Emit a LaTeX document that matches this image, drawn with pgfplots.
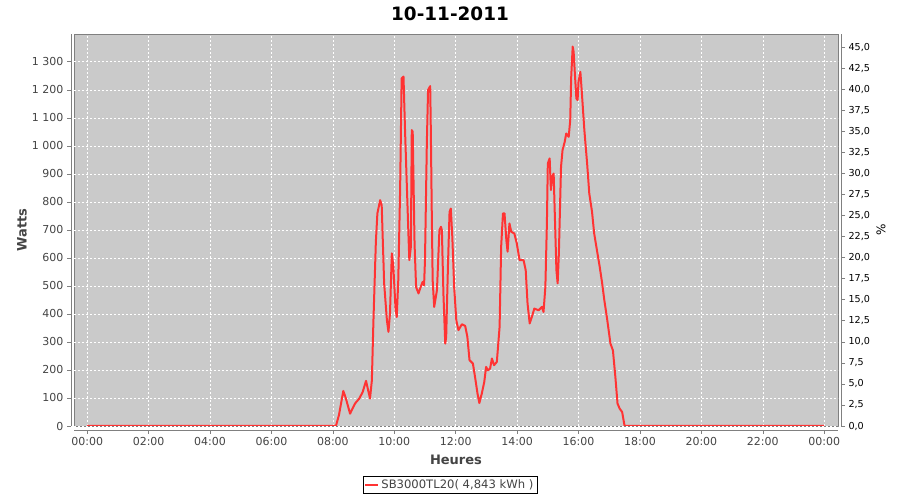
\documentclass[border=0pt]{standalone}
\usepackage{pgfplots}
\pgfplotsset{compat=1.18}
\usepackage{fontspec}
\setmainfont{DejaVu Sans}
\definecolor{plotbg}{RGB}{202,202,202}
\definecolor{curve}{RGB}{255,51,51}
\definecolor{axgray}{RGB}{128,128,128}
\definecolor{txtgray}{RGB}{68,68,68}
\pgfplotstableread{
h w
0 0
8.10 0
8.20 40
8.34 125
8.42 100
8.56 44
8.72 80
8.86 98
8.97 121
9.08 161
9.21 98
9.27 163
9.32 371
9.40 657
9.45 759
9.54 806
9.59 788
9.67 509
9.76 377
9.81 336
9.86 401
9.92 616
9.97 568
10.04 420
10.08 389
10.13 520
10.19 842
10.24 1241
10.30 1247
10.35 1056
10.41 854
10.46 687
10.49 592
10.54 639
10.57 1056
10.60 1050
10.66 651
10.71 496
10.79 473
10.86 496
10.92 514
10.97 502
11.00 592
11.06 1008
11.10 1199
11.17 1213
11.19 1056
11.22 770
11.25 520
11.30 425
11.39 485
11.47 699
11.52 711
11.55 699
11.60 473
11.66 294
11.69 318
11.75 580
11.80 764
11.84 776
11.89 675
11.95 496
12.02 377
12.09 342
12.20 363
12.31 357
12.38 318
12.45 235
12.56 223
12.63 175
12.71 116
12.77 82
12.85 116
12.93 157
12.99 211
13.05 199
13.12 205
13.18 241
13.25 217
13.34 229
13.43 354
13.48 639
13.54 759
13.59 759
13.65 663
13.69 622
13.75 723
13.81 693
13.91 687
13.99 651
14.08 592
14.21 592
14.28 556
14.34 437
14.41 366
14.48 389
14.56 419
14.70 413
14.81 425
14.86 407
14.92 496
14.97 723
15.00 937
15.06 955
15.10 842
15.14 889
15.19 901
15.23 746
15.28 556
15.32 509
15.36 616
15.43 925
15.48 985
15.55 1014
15.60 1044
15.68 1032
15.73 1092
15.76 1241
15.81 1354
15.84 1336
15.88 1259
15.93 1169
15.97 1163
16.00 1229
16.06 1264
16.11 1187
16.19 1056
16.28 937
16.35 830
16.44 764
16.51 687
16.60 627
16.69 568
16.77 509
16.84 449
16.93 383
17.04 294
17.12 270
17.20 175
17.27 80
17.34 62
17.42 50
17.50 0
24 0
}\datatable
\begin{document}
\begin{tikzpicture}
\path[use as bounding box] (0,0) rectangle (900pt,500pt);
\begin{axis}[
  at={(74pt,74pt)}, anchor=south west,
  scale only axis, width=764pt, height=392pt,
  xmin=-0.43, xmax=24.45, ymin=0, ymax=1399,
  axis x line=bottom, axis y line=left,
  axis x line shift=4pt, axis y line shift=3pt,
  axis line style={draw=axgray, -},
  axis background/.style={fill=plotbg, draw=axgray},
  xtick={0,2,...,24},
  xticklabels={00:00,02:00,04:00,06:00,08:00,10:00,12:00,14:00,16:00,18:00,20:00,22:00,00:00},
  ytick={0,100,...,1300},
  /pgf/number format/assume math mode=true,
  /pgf/number format/1000 sep={\ },
  tick align=outside, major tick length=4pt,
  tick style={draw=axgray, line width=0.5pt},
  tick label style={font=\fontsize{11}{13}\selectfont, text=txtgray},
  grid=major,
  major grid style={white, dash pattern=on 2pt off 2pt, line width=0.5pt},
  legend style={at={(axis description cs:0.492,-0.128)}, anchor=north,
    draw=black, line width=0.6pt, font=\fontsize{11.6}{13}\selectfont, text=txtgray,
    inner sep=1.5pt, row sep=0pt},
  legend image code/.code={\draw[curve, line width=2pt] (0pt,0pt) -- (13pt,0pt);},
]
\addplot[curve, line width=2pt, line join=round] table[x=h, y=w] {\datatable};
\addlegendentry{SB3000TL20( 4,843 kWh )}
\end{axis}
\begin{axis}[
  at={(74pt,74pt)}, anchor=south west,
  scale only axis, width=764pt, height=392pt,
  xmin=-0.43, xmax=24.45, ymin=0, ymax=46.55,
  axis y line=right, axis x line=none,
  axis y line shift=3pt,
  axis line style={draw=axgray, -},
  ytick={0,2.5,...,45},
  /pgf/number format/assume math mode=true,
  /pgf/number format/.cd, fixed, fixed zerofill, precision=1, use comma, /pgfplots/.cd,
  tick align=outside, major tick length=4pt,
  tick style={draw=axgray, line width=0.5pt},
  tick label style={font=\fontsize{9.6}{11}\selectfont, text=black},
]
\addplot[draw=none] coordinates {(0,0)};
\end{axis}
\node[font=\bfseries\fontsize{18.4}{20}\selectfont] at (450pt,486pt) {10-11-2011};
\node[font=\bfseries\fontsize{13}{15}\selectfont, text=txtgray, rotate=90] at (22pt,270pt) {Watts};
\node[font=\bfseries\fontsize{13}{15}\selectfont, text=txtgray] at (456pt,40pt) {Heures};
\node[font=\fontsize{12}{14}\selectfont, text=black, rotate=90] at (881pt,270pt) {\%};
\end{tikzpicture}
\end{document}
